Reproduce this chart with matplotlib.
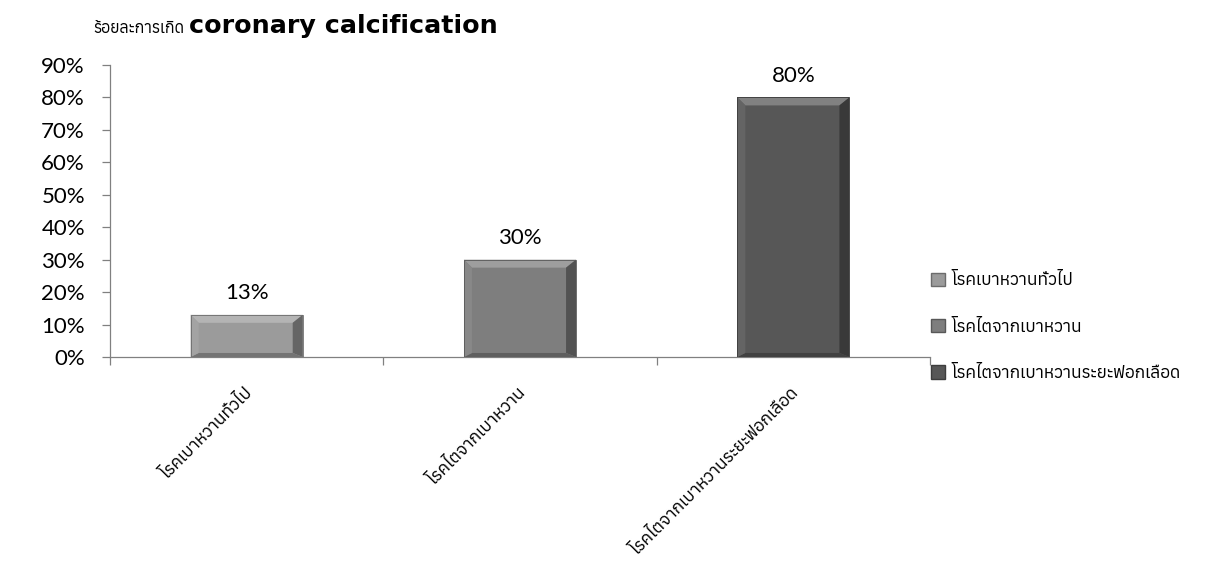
import numpy as np
import matplotlib
matplotlib.use("Agg")
import matplotlib.pyplot as plt
from matplotlib import font_manager as fm
from matplotlib.patches import Polygon, Patch
from fontTools.ttLib import TTFont

categories = ["โรคเบาหวานทั่วไป", "โรคไตจากเบาหวาน", "โรคไตจากเบาหวานระยะฟอกเลือด"]
values = [13, 30, 80]
bar_colors = ["#9b9b9b", "#7e7e7e", "#575757"]
y_ticks = [0, 10, 20, 30, 40, 50, 60, 70, 80, 90]
title_th = "ร้อยละการเกิด"
title_en = "coronary calcification"


def has_thai(path):
    try:
        if path.lower().endswith((".ttc", ".otc")):
            font = TTFont(path, fontNumber=0, lazy=True)
        else:
            font = TTFont(path, lazy=True)
        return 0x0E01 in font.getBestCmap()
    except Exception:
        return False


# look for any installed face that covers the Thai block
thai_family = None
for entry in sorted(fm.fontManager.ttflist, key=lambda e: ("bold" in e.name.lower(), e.name)):
    if has_thai(entry.fname):
        thai_family = entry.name
        break

fam = ["Lato"] + ([thai_family] if thai_family else []) + ["DejaVu Sans"]
thai_fam = ([thai_family] if thai_family else []) + ["DejaVu Sans"]

fig = plt.figure(figsize=(12.06, 5.68), dpi=100)
ax = fig.add_axes([0.0912, 0.3715, 0.6800, 0.5141])

x = np.arange(len(categories))
bars = ax.bar(x, values, width=0.41, color=bar_colors, zorder=2)

ax.set_xlim(-0.5, len(categories) - 0.5)
ax.set_ylim(0, 90)
ax.set_yticks(y_ticks)
ax.set_yticklabels([f"{v}%" for v in y_ticks], family=fam, fontsize=16)
ax.tick_params(axis="y", length=6, width=0.9, color="#808080", labelcolor="#000000", pad=12)

# category separators as ticks on the x axis
ax.set_xticks(np.arange(len(categories) + 1) - 0.5)
ax.set_xticklabels([])
ax.tick_params(axis="x", length=6, width=0.9, color="#808080", direction="out")
for i, name in enumerate(categories):
    ax.text(i - 0.01, -8.5, name, rotation=45, ha="right", va="top",
            rotation_mode="anchor", family=thai_fam, fontsize=12.5)

for side in ["top", "right"]:
    ax.spines[side].set_visible(False)
for side in ["left", "bottom"]:
    ax.spines[side].set_color("#808080")
    ax.spines[side].set_linewidth(0.9)


def shade(hex_color, f):
    rgb = np.array(matplotlib.colors.to_rgb(hex_color))
    if f >= 0:
        rgb = rgb + (1 - rgb) * f
    else:
        rgb = rgb * (1 + f)
    return tuple(np.clip(rgb, 0, 1))


# bevelled edges on each bar
inv = ax.transData.inverted()
for rect, col in zip(bars, bar_colors):
    x0, y0 = rect.get_x(), rect.get_y()
    x1, y1 = x0 + rect.get_width(), y0 + rect.get_height()
    (px0, py0), (px1, py1) = ax.transData.transform([(x0, y0), (x1, y1)])
    (ix0, iy0), (ix1, iy1) = inv.transform([(px0 + 8, py0 + 4), (px1 - 10, py1 - 8)])
    bands = [
        ([(x0, y1), (x1, y1), (ix1, iy1), (ix0, iy1)], shade(col, 0.25)),
        ([(x1, y1), (x1, y0), (ix1, iy0), (ix1, iy1)], shade(col, -0.35)),
        ([(x0, y0), (x1, y0), (ix1, iy0), (ix0, iy0)], shade(col, -0.25)),
        ([(x0, y0), (x0, y1), (ix0, iy1), (ix0, iy0)], shade(col, 0.08)),
    ]
    for pts, c in bands:
        ax.add_patch(Polygon(pts, closed=True, facecolor=c, edgecolor="none", zorder=3))
    ax.add_patch(Polygon([(x0, y0), (x1, y0), (x1, y1), (x0, y1)], closed=True,
                         fill=False, edgecolor=shade(col, -0.3), linewidth=0.6, zorder=4))

for rect, v in zip(bars, values):
    ax.text(rect.get_x() + rect.get_width() / 2, v + 3.5, f"{v}%",
            ha="center", va="bottom", family=fam, fontsize=16)

# two-part title: Thai words followed by the bold English term
fig.text(93 / 1206, 1 - 33 / 568, title_th, family=thai_fam, fontsize=11.6,
         weight="bold", va="baseline")
fig.text(189 / 1206, 1 - 33 / 568, title_en, family=["DejaVu Sans"],
         fontsize=18.3, weight="bold", va="baseline")

handles = [Patch(facecolor=c, edgecolor=shade(c, -0.3)) for c in bar_colors]
fig.legend(handles, categories, loc="upper left", bbox_to_anchor=(0.759, 0.548),
           frameon=False, prop={"family": thai_fam, "size": 12.5},
           handlelength=0.8, handleheight=0.8, handletextpad=0.4, labelspacing=1.75)

fig.savefig("out.png", dpi=100)
